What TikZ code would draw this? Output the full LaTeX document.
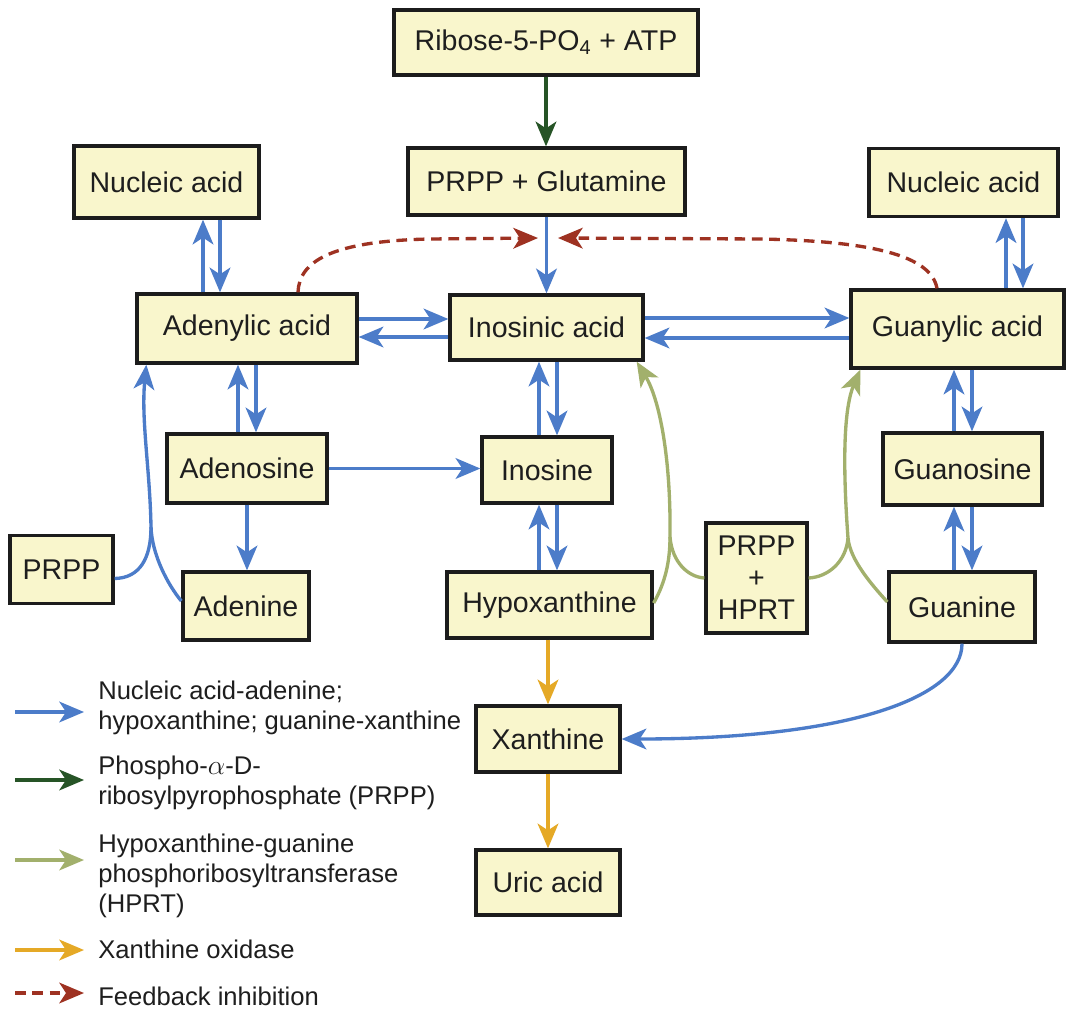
\documentclass[tikz,border=0pt]{standalone}
\usepackage{fontspec}
\setmainfont{Liberation Sans}
\usetikzlibrary{arrows.meta,calc}

\definecolor{boxfill}{RGB}{249,246,204}
\definecolor{boxline}{RGB}{28,28,28}
\definecolor{inktext}{RGB}{30,30,30}
\definecolor{pathblue}{RGB}{76,124,201}
\definecolor{prppgreen}{RGB}{38,84,38}
\definecolor{hprtgreen}{RGB}{162,176,108}
\definecolor{xoorange}{RGB}{229,169,38}
\definecolor{fbred}{RGB}{158,50,34}

\begin{document}
\begin{tikzpicture}[x=0.75pt,y=-0.75pt,
  box/.style={draw=boxline, fill=boxfill, line width=2.5pt, inner sep=0pt,
    align=center, text=inktext, font=\fontsize{21.4}{24}\selectfont},
  sz/.style 2 args={minimum width=#1*0.75pt, minimum height=#2*0.75pt},
  tip/.style={-{Stealth[length=18.5pt,width=15.5pt,inset=5pt]}},
  wire/.style={line width=2.5pt},
  blueline/.style={wire, draw=pathblue},
  blueflow/.style={blueline, tip},
  greenflow/.style={wire, draw=prppgreen, tip},
  hprtline/.style={wire, draw=hprtgreen},
  hprtflow/.style={hprtline, tip},
  xoflow/.style={wire, draw=xoorange, tip},
  fbflow/.style={wire, draw=fbred, dash pattern=on 8pt off 5pt, tip},
  legtext/.style={anchor=base west, align=left, inner sep=0pt, text=inktext,
    font=\fontsize{19.2}{22.4}\selectfont}
]
\fill[white] (0,0) rectangle (1068,1011);
\useasboundingbox (0,0) rectangle (1068,1011);

% ---- metabolite boxes ----
\node[box,sz={304}{65}] (ribose)    at (546,42.5)   {Ribose-5-PO\textsubscript{4} + ATP};
\node[box,sz={277}{67}] (prppg)     at (546.5,181.5){PRPP + Glutamine};
\node[box,sz={185}{72}] (nucL)      at (166.5,182)  {Nucleic acid};
\node[box,sz={189}{68}] (nucR)      at (963.5,182.5){Nucleic acid};
\node[box,sz={220}{69}] (adenylic)  at (247,328.5)  {Adenylic acid};
\node[box,sz={193}{65}] (inosinic)  at (546.5,327.5){Inosinic acid};
\node[box,sz={213}{78}] (guanylic)  at (957.5,329)  {Guanylic acid};
\node[box,sz={160}{69}] (adenosine) at (247,468.5)  {Adenosine};
\node[box,sz={130}{66}] (inosine)   at (547,470)    {Inosine};
\node[box,sz={159}{72}] (guanosine) at (962.5,469)  {Guanosine};
\node[box,sz={103}{68}] (prppL)     at (61.5,569.5) {PRPP};
\node[box,sz={126}{68}] (adenine)   at (246,606)    {Adenine};
\node[box,sz={205}{66}] (hypox)     at (549.5,605)  {Hypoxanthine};
\node[box,sz={101}{110}] (prpphprt) at (756.5,578)  {PRPP\\+\\HPRT};
\node[box,sz={146}{70}] (guanine)   at (962,607)    {Guanine};
\node[box,sz={144}{66}] (xanthine)  at (548,739)    {Xanthine};
\node[box,sz={144}{65}] (uric)      at (548,882.5)  {Uric acid};

% ---- de novo entry ----
\draw[greenflow] (ribose.south) -- (ribose.south |- prppg.north);
\draw[blueflow] (prppg.south) -- (prppg.south |- inosinic.north);

% ---- feedback inhibition ----
\coordinate (fbL) at (538,238);
\coordinate (fbR) at (558,238);
\draw[fbflow] ($(adenylic.north)+(51,0)$) .. controls (299,262) and (330,241) .. (430,239) -- (fbL);
\draw[fbflow] ($(guanylic.north)+(-20.5,0)$) .. controls (931,255) and (870,241) .. (760,239) -- (fbR);

% ---- nucleic acid exchange ----
\draw[blueflow] ($(adenylic.north)+(-44,0)$) -- ($(nucL.south)+(36.5,0)$);
\draw[blueflow] ($(nucL.south)+(53.5,0)$) -- ($(adenylic.north)+(-27,0)$);
\draw[blueflow] ($(guanylic.north)+(48.5,0)$) -- ($(nucR.south)+(42.5,0)$);
\draw[blueflow] ($(nucR.south)+(59.5,0)$) -- ($(guanylic.north)+(65.5,0)$);

% ---- nucleotide interconversion ----
\draw[blueflow] ($(adenylic.east)+(0,-9.5)$) -- ($(inosinic.west)+(0,-8.5)$);
\draw[blueflow] ($(inosinic.west)+(0,9.5)$) -- ($(adenylic.east)+(0,8.5)$);
\draw[blueflow] ($(inosinic.east)+(0,-9.5)$) -- ($(guanylic.west)+(0,-11)$);
\draw[blueflow] ($(guanylic.west)+(0,9)$) -- ($(inosinic.east)+(0,10.5)$);

% ---- adenine branch ----
\draw[blueflow] ($(adenosine.north)+(-9,0)$) -- ($(adenylic.south)+(-9,0)$);
\draw[blueflow] ($(adenylic.south)+(9,0)$) -- ($(adenosine.north)+(9,0)$);
\draw[blueflow] (adenosine.east) -- (adenosine.east -| inosine.west);
\draw[blueflow] (adenosine.south) -- (adenosine.south |- adenine.north);
\draw[blueflow] ($(prppL.east)+(0,9)$) .. controls (140,578) and (151,558) .. (151,527)
  .. controls (150,470) and (141,420) .. ($(adenylic.south west)+(11,0)$);
\draw[blueline] ($(adenine.west)+(0,-5)$) .. controls (168,585) and (152,555) .. (151,527);

% ---- inosine branch ----
\draw[blueflow] ($(inosine.north)+(-8,0)$) -- ($(inosinic.south)+(-7.5,0)$);
\draw[blueflow] ($(inosinic.south)+(10.5,0)$) -- ($(inosine.north)+(10,0)$);
\draw[blueflow] ($(hypox.north)+(-10.5,0)$) -- ($(inosine.south)+(-8,0)$);
\draw[blueflow] ($(inosine.south)+(10,0)$) -- ($(hypox.north)+(7.5,0)$);

% ---- guanine branch ----
\draw[blueflow] ($(guanosine.north)+(-8.5,0)$) -- ($(guanylic.south)+(-3.5,0)$);
\draw[blueflow] ($(guanylic.south)+(14.5,0)$) -- ($(guanosine.north)+(9.5,0)$);
\draw[blueflow] ($(guanine.north)+(-8,0)$) -- ($(guanosine.south)+(-8.5,0)$);
\draw[blueflow] ($(guanosine.south)+(9.5,0)$) -- ($(guanine.north)+(10,0)$);

% ---- salvage by HPRT ----
\draw[hprtflow] ($(hypox.east)+(0,-2)$) .. controls (665,583) and (670,562) .. (670,537)
  .. controls (671,460) and (660,400) .. ($(inosinic.south east)+(-8,0)$);
\draw[hprtline] (prpphprt.west) .. controls (688,577) and (672,562) .. (670,537);
\draw[hprtflow] ($(guanine.west)+(0,-5)$) .. controls (872,585) and (850,560) .. (848,538)
  .. controls (843,470) and (843,410) .. ($(guanylic.south west)+(11,0)$);
\draw[hprtline] (prpphprt.east) .. controls (828,577) and (846,562) .. (848,538);

% ---- degradation ----
\draw[xoflow] (xanthine.north |- hypox.south) -- (xanthine.north);
\draw[xoflow] (xanthine.south) -- (uric.north);
\draw[blueflow] (guanine.south) .. controls (962,697) and (850,739) .. (xanthine.east);

% ---- key ----
\coordinate (k1a) at (15,712);  \coordinate (k1b) at (84,712);
\coordinate (k2a) at (15,780);  \coordinate (k2b) at (84,780);
\coordinate (k3a) at (15,860);  \coordinate (k3b) at (84,860);
\coordinate (k4a) at (15,950);  \coordinate (k4b) at (84,950);
\coordinate (k5a) at (15,993);  \coordinate (k5b) at (84,993);
\draw[blueflow] (k1a) -- (k1b);
\draw[greenflow] (k2a) -- (k2b);
\draw[hprtflow] (k3a) -- (k3b);
\draw[xoflow] (k4a) -- (k4b);
\draw[fbflow] (k5a) -- (k5b);
\node[legtext] (key1) at (98,729)  {Nucleic acid-adenine;\\hypoxanthine; guanine-xanthine};
\node[legtext] (key2) at (98,804)  {Phospho-$\alpha$-D-\\ribosylpyrophosphate (PRPP)};
\node[legtext] (key3) at (98,912)  {Hypoxanthine-guanine\\phosphoribosyltransferase\\(HPRT)};
\node[legtext] (key4) at (98,958)  {Xanthine oxidase};
\node[legtext] (key5) at (98,1005) {Feedback inhibition};
\end{tikzpicture}
\end{document}
